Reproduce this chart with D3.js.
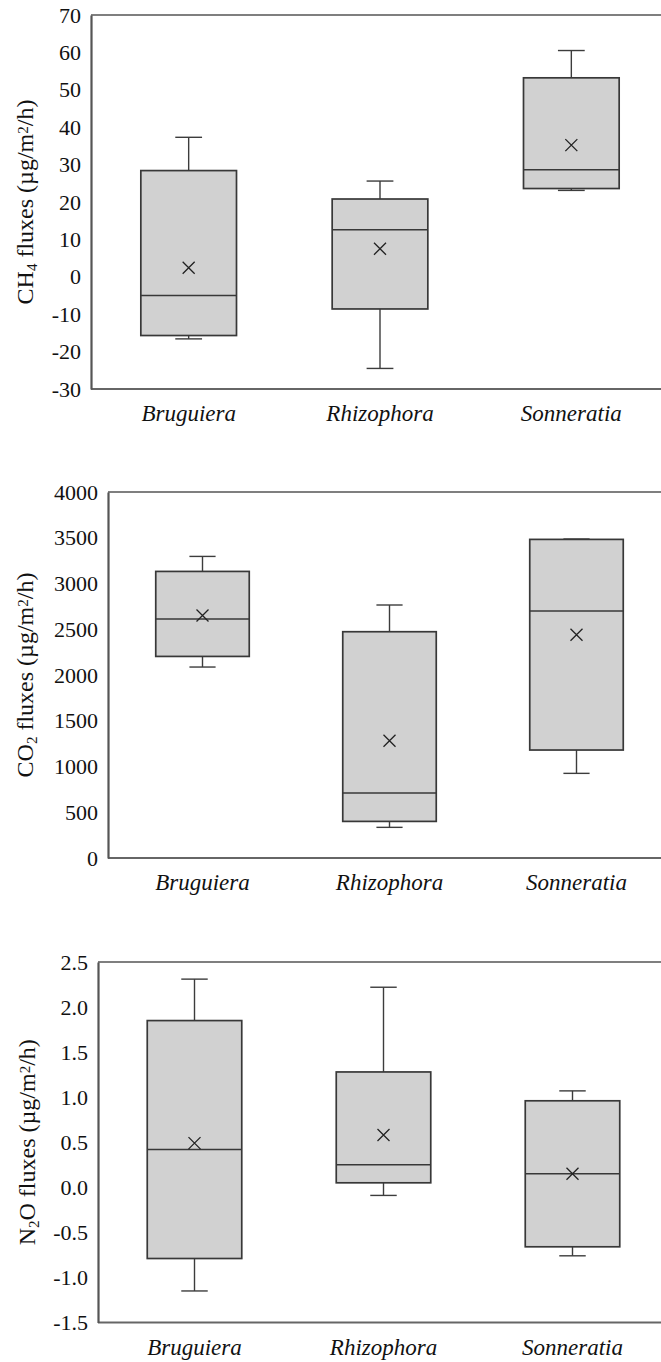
<!DOCTYPE html>
<html>
<head>
<meta charset="utf-8">
<script src="https://cdn.jsdelivr.net/npm/d3@7"></script>
<style>
  body { margin: 0; background: #fff; }
  svg { display: block; }
</style>
</head>
<body>
<div id="chart"></div>
<script>
// species on the x axis
const species = ['Bruguiera', 'Rhizophora', 'Sonneratia'];

// CH4 fluxes (µg/m2/h)
const ch4Min = [-16.6, -24.5, 23.1];
const ch4Q1 = [-15.7, -8.6, 23.6];
const ch4Median = [-5.0, 12.6, 28.6];
const ch4Q3 = [28.4, 20.8, 53.2];
const ch4Max = [37.3, 25.6, 60.5];
const ch4Mean = [2.4, 7.5, 35.2];
const ch4Ticks = [-30, -20, -10, 0, 10, 20, 30, 40, 50, 60, 70];

// CO2 fluxes (µg/m2/h)
const co2Min = [2087, 335, 925];
const co2Q1 = [2203, 400, 1180];
const co2Median = [2612, 710, 2699];
const co2Q3 = [3132, 2473, 3482];
const co2Max = [3296, 2765, 3486];
const co2Mean = [2651, 1282, 2440];
const co2Ticks = [0, 500, 1000, 1500, 2000, 2500, 3000, 3500, 4000];

// N2O fluxes (µg/m2/h)
const n2oMin = [-1.15, -0.09, -0.76];
const n2oQ1 = [-0.79, 0.05, -0.66];
const n2oMedian = [0.42, 0.25, 0.15];
const n2oQ3 = [1.85, 1.28, 0.96];
const n2oMax = [2.31, 2.22, 1.07];
const n2oMean = [0.49, 0.58, 0.15];
const n2oTicks = [-1.5, -1.0, -0.5, 0.0, 0.5, 1.0, 1.5, 2.0, 2.5];

const W = 661;
const H = 1362;
const FONT = 'Liberation Serif';

const svg = d3.select('#chart').append('svg')
  .attr('width', W)
  .attr('height', H)
  .attr('font-family', FONT);

function rows(min, q1, med, q3, max, mean) {
  return species.map((s, i) => ({
    key: s, min: min[i], q1: q1[i], median: med[i], q3: q3[i], max: max[i], mean: mean[i],
  }));
}

function drawPanel(opts) {
  const g = svg.append('g');
  const y = d3.scaleLinear()
    .domain(d3.extent(opts.ticks))
    .range([opts.bottom, opts.top]);
  const x = d3.scaleBand()
    .domain(species)
    .range(opts.xRange);
  const boxW = x.bandwidth() * 0.5;
  const capW = boxW * 0.28;
  const cx = (d) => x(d.key) + x.bandwidth() / 2;

  // frame: top line, bottom line (no right border)
  g.append('line')
    .attr('x1', opts.left).attr('x2', W)
    .attr('y1', opts.top).attr('y2', opts.top)
    .attr('stroke', '#555').attr('stroke-width', 1.6);
  g.append('line')
    .attr('x1', opts.left).attr('x2', W)
    .attr('y1', opts.bottom).attr('y2', opts.bottom)
    .attr('stroke', '#666').attr('stroke-width', 2.2);

  // y axis
  const yAxis = g.append('g')
    .attr('transform', `translate(${opts.left},0)`)
    .call(d3.axisLeft(y)
      .tickValues(opts.ticks)
      .tickFormat(opts.format)
      .tickSize(0)
      .tickSizeOuter(0)
      .tickPadding(10));
  yAxis.attr('font-family', FONT).attr('font-size', 22);
  yAxis.select('.domain').attr('stroke', '#555').attr('stroke-width', 2.2);
  yAxis.selectAll('.tick text').attr('fill', '#111');

  // x axis labels
  const xAxis = g.append('g')
    .attr('transform', `translate(0,${opts.bottom})`)
    .call(d3.axisBottom(x).tickSize(0).tickPadding(16));
  xAxis.attr('font-family', FONT).attr('font-size', 23);
  xAxis.select('.domain').remove();
  xAxis.selectAll('.tick text')
    .attr('font-style', 'italic')
    .attr('fill', '#111');

  // y title with sub/superscripts
  const titleY = (opts.top + opts.bottom) / 2;
  const title = g.append('text')
    .attr('transform', `translate(${opts.titleX},${titleY}) rotate(-90)`)
    .attr('text-anchor', 'middle')
    .attr('fill', '#111')
    .attr('font-size', 24);
  title.append('tspan').text(opts.gas);
  title.append('tspan').text(opts.sub)
    .attr('baseline-shift', '-25%').attr('font-size', 15);
  title.append('tspan').text(`${opts.after} fluxes (µg/m`);
  title.append('tspan').text('2')
    .attr('baseline-shift', '35%').attr('font-size', 15);
  title.append('tspan').text('/h)');

  const boxes = g.selectAll('.box')
    .data(opts.data)
    .enter()
    .append('g')
    .attr('class', 'box');

  // whiskers
  boxes.append('line')
    .attr('x1', cx).attr('x2', cx)
    .attr('y1', (d) => y(d.max)).attr('y2', (d) => y(d.q3))
    .attr('stroke', '#3c3c3c').attr('stroke-width', 1.4);
  boxes.append('line')
    .attr('x1', cx).attr('x2', cx)
    .attr('y1', (d) => y(d.q1)).attr('y2', (d) => y(d.min))
    .attr('stroke', '#3c3c3c').attr('stroke-width', 1.4);
  boxes.append('line')
    .attr('x1', (d) => cx(d) - capW / 2).attr('x2', (d) => cx(d) + capW / 2)
    .attr('y1', (d) => y(d.max)).attr('y2', (d) => y(d.max))
    .attr('stroke', '#3c3c3c').attr('stroke-width', 1.4);
  boxes.append('line')
    .attr('x1', (d) => cx(d) - capW / 2).attr('x2', (d) => cx(d) + capW / 2)
    .attr('y1', (d) => y(d.min)).attr('y2', (d) => y(d.min))
    .attr('stroke', '#3c3c3c').attr('stroke-width', 1.4);

  // box
  boxes.append('rect')
    .attr('x', (d) => cx(d) - boxW / 2)
    .attr('width', boxW)
    .attr('y', (d) => y(d.q3))
    .attr('height', (d) => y(d.q1) - y(d.q3))
    .attr('fill', '#d1d1d1')
    .attr('stroke', '#383838')
    .attr('stroke-width', 1.7);

  // median
  boxes.append('line')
    .attr('x1', (d) => cx(d) - boxW / 2).attr('x2', (d) => cx(d) + boxW / 2)
    .attr('y1', (d) => y(d.median)).attr('y2', (d) => y(d.median))
    .attr('stroke', '#383838').attr('stroke-width', 1.5);

  // mean marker (x)
  const m = 6;
  boxes.append('path')
    .attr('d', (d) => {
      const px = cx(d);
      const py = y(d.mean);
      return `M${px - m},${py - m}L${px + m},${py + m}M${px - m},${py + m}L${px + m},${py - m}`;
    })
    .attr('stroke', '#222')
    .attr('stroke-width', 1.3)
    .attr('fill', 'none');
}

drawPanel({
  data: rows(ch4Min, ch4Q1, ch4Median, ch4Q3, ch4Max, ch4Mean),
  ticks: ch4Ticks,
  format: (d) => String(d),
  top: 15, bottom: 389, left: 91, xRange: [93, 667],
  titleX: 33, gas: 'CH', sub: '4', after: '',
});

drawPanel({
  data: rows(co2Min, co2Q1, co2Median, co2Q3, co2Max, co2Mean),
  ticks: co2Ticks,
  format: (d) => String(d),
  top: 492, bottom: 858, left: 108, xRange: [109, 670],
  titleX: 33, gas: 'CO', sub: '2', after: '',
});

drawPanel({
  data: rows(n2oMin, n2oQ1, n2oMedian, n2oQ3, n2oMax, n2oMean),
  ticks: n2oTicks,
  format: (d) => d.toFixed(1),
  top: 962, bottom: 1322.5, left: 98, xRange: [100, 667],
  titleX: 35, gas: 'N', sub: '2', after: 'O',
});
</script>
</body>
</html>
